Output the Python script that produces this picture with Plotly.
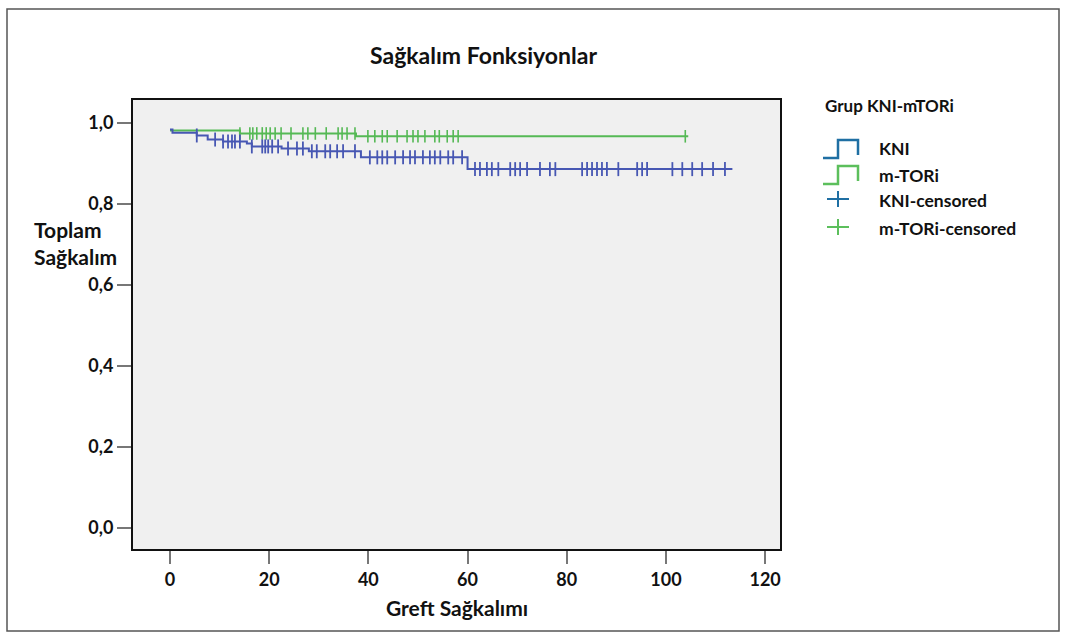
import plotly.graph_objects as go

# ---------------- data ----------------
# KNI group: step times and survival after each step
kni_times = [0, 0.5, 5.4, 7.6, 10.7, 15.5, 16.5, 22.5, 28.0, 38.5, 60.0, 113.4]
kni_surv = [0.983, 0.975, 0.968, 0.958, 0.953, 0.948, 0.941, 0.936, 0.929, 0.914, 0.885, 0.885]
kni_censor_t = [5.4, 9.1, 10.7, 11.7, 12.5, 13.1, 14.1, 16.5, 18.6, 19.2, 19.8, 20.6, 21.8,
                23.8, 25.6, 26.8, 28.6, 29.6, 31.3, 32.3, 33.7, 34.9, 37.3, 40.3, 41.8, 42.8,
                43.8, 45.4, 47.0, 48.4, 49.4, 51.0, 52.4, 53.4, 54.5, 56.1, 57.1, 58.9,
                61.5, 62.5, 63.9, 64.9, 66.2, 68.6, 69.6, 70.6, 72.0, 74.6, 76.6, 77.7,
                83.1, 84.1, 85.1, 86.1, 87.1, 88.1, 90.4, 94.2, 95.2, 96.2, 101.3, 103.3,
                105.3, 107.3, 109.5, 111.9]

# m-TORi group
mtor_times = [0, 14.1, 37.5, 104.5]
mtor_surv = [0.980, 0.973, 0.966, 0.966]
mtor_censor_t = [14.1, 16.1, 16.7, 17.5, 18.6, 19.4, 20.2, 21.2, 22.4, 24.4, 26.8, 27.8,
                 29.3, 31.5, 33.9, 34.7, 35.7, 37.3, 39.9, 41.3, 42.8, 43.8, 45.8, 47.8,
                 49.0, 50.0, 51.4, 53.4, 54.3, 55.9, 57.1, 58.1, 103.9]

x_ticks = [0, 20, 40, 60, 80, 100, 120]
y_ticks = [0.0, 0.2, 0.4, 0.6, 0.8, 1.0]
y_ticktext = ["0,0", "0,2", "0,4", "0,6", "0,8", "1,0"]

title_text = "Sağkalım Fonksiyonlar"
x_title = "Greft Sağkalımı"
y_title = "Toplam<br>Sağkalım"
legend_title = "Grup KNI-mTORi"
legend_labels = ["KNI", "m-TORi", "KNI-censored", "m-TORi-censored"]


def surv_at(times, surv, t):
    s = surv[0]
    for ti, si in zip(times, surv):
        if ti <= t:
            s = si
    return s


# ---------------- styling ----------------
W, H = 1066, 634
PL, PR, PT, PB = 133, 780, 100, 549
FONT = "Lato"
KNI_LINE = "#4757b3"
MTOR_LINE = "#55b955"
KNI_LEG = "#1f6fa3"
MTOR_LEG = "#5cbf5c"


def px(xp):
    return (xp - PL) / (PR - PL)


def py(yp):
    return (PB - yp) / (PB - PT)


fig = go.Figure()

fig.add_trace(go.Scatter(x=mtor_times, y=mtor_surv, mode="lines", line_shape="hv",
                         line=dict(color=MTOR_LINE, width=2), hoverinfo="skip"))
fig.add_trace(go.Scatter(x=mtor_censor_t, y=[surv_at(mtor_times, mtor_surv, t) for t in mtor_censor_t],
                         mode="markers",
                         marker=dict(symbol="line-ns", size=9, line=dict(color=MTOR_LINE, width=1.6))))
fig.add_trace(go.Scatter(x=kni_times, y=kni_surv, mode="lines", line_shape="hv",
                         line=dict(color=KNI_LINE, width=2), hoverinfo="skip"))
fig.add_trace(go.Scatter(x=kni_censor_t, y=[surv_at(kni_times, kni_surv, t) for t in kni_censor_t],
                         mode="markers",
                         marker=dict(symbol="line-ns", size=10, line=dict(color=KNI_LINE, width=1.8))))

shapes = []
# outer frame
shapes.append(dict(type="rect", xref="paper", yref="paper",
                   x0=px(7), x1=px(1059), y0=py(631), y1=py(9),
                   line=dict(color="#555", width=1.5), fillcolor="rgba(0,0,0,0)", layer="below"))


def step_glyph(x0, yb, yt, color):
    pts = [(x0, yb), (x0 + 15, yb), (x0 + 15, yt), (x0 + 35, yt), (x0 + 35, yb - 3)]
    path = "M " + " L ".join(f"{px(a):.5f},{py(b):.5f}" for a, b in pts)
    return dict(type="path", xref="paper", yref="paper", path=path,
                line=dict(color=color, width=2.5))


def plus_glyph(cx, cy, color):
    return [
        dict(type="line", xref="paper", yref="paper", x0=px(cx - 11), x1=px(cx + 11),
             y0=py(cy), y1=py(cy), line=dict(color=color, width=2)),
        dict(type="line", xref="paper", yref="paper", x0=px(cx), x1=px(cx),
             y0=py(cy - 8), y1=py(cy + 8), line=dict(color=color, width=2)),
    ]


shapes.append(step_glyph(823, 158, 140, KNI_LEG))
shapes.append(step_glyph(823, 184, 166, MTOR_LEG))
shapes += plus_glyph(838, 199, KNI_LEG)
shapes += plus_glyph(838, 227, MTOR_LEG)

annotations = []
bold = dict(family=FONT, color="#111", weight="bold")
annotations.append(dict(text=title_text, x=px(483), y=py(55), xref="paper", yref="paper",
                        showarrow=False, xanchor="center", yanchor="middle",
                        font=dict(size=23, **bold)))
annotations.append(dict(text=x_title, x=px(457), y=py(607), xref="paper", yref="paper",
                        showarrow=False, xanchor="center", yanchor="middle",
                        font=dict(size=21, **bold)))
annotations.append(dict(text=y_title, x=px(32), y=py(243), xref="paper", yref="paper",
                        showarrow=False, xanchor="left", yanchor="middle", align="left",
                        font=dict(size=21, **bold)))
annotations.append(dict(text=legend_title, x=px(823), y=py(105), xref="paper", yref="paper",
                        showarrow=False, xanchor="left", yanchor="middle",
                        font=dict(size=17, **bold)))
for lab, yy in zip(legend_labels, [149, 175, 200, 228]):
    annotations.append(dict(text=lab, x=px(877), y=py(yy), xref="paper", yref="paper",
                            showarrow=False, xanchor="left", yanchor="middle",
                            font=dict(size=17.5, **bold)))

fig.update_layout(
    width=W, height=H,
    margin=dict(l=PL, r=W - PR, t=PT, b=H - PB, pad=0),
    paper_bgcolor="white",
    plot_bgcolor="#f0f0f0",
    showlegend=False,
    shapes=shapes,
    annotations=annotations,
    font=dict(family=FONT, color="#111"),
)
fig.update_xaxes(range=[-7.46, 123.0], tickvals=x_ticks, ticktext=[str(v) for v in x_ticks],
                 showgrid=False, zeroline=False, showline=True, mirror=True,
                 linecolor="#111", linewidth=2, ticks="outside", ticklen=13, tickwidth=2,
                 tickcolor="#777", tickfont=dict(size=18, family=FONT, weight="bold", color="#111"))
fig.update_yaxes(range=[-0.052, 1.0555], tickvals=y_ticks, ticktext=y_ticktext,
                 showgrid=False, zeroline=False, showline=True, mirror=True,
                 linecolor="#111", linewidth=2, ticks="outside", ticklen=14, tickwidth=2,
                 tickcolor="#777", tickfont=dict(size=18, family=FONT, weight="bold", color="#111"))

fig.write_html("out.html", config={"displayModeBar": False},
               post_script="document.body.style.margin='0';document.body.style.overflow='hidden';")
